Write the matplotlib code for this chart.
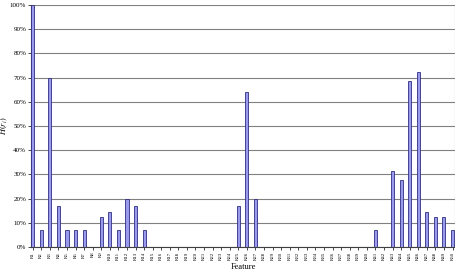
import numpy as np
import matplotlib.pyplot as plt

# feature names R1..R50 and their H(r_i) values in percent
features = ["R%d" % i for i in range(1, 51)]
values = [100, 7, 70, 17, 7, 7, 7, 0, 12.5, 14.5,
          7, 20, 17, 7, 0, 0, 0, 0, 0, 0,
          0, 0, 0, 0, 17, 64, 20, 0, 0, 0,
          0, 0, 0, 0, 0, 0, 0, 0, 0, 0,
          7, 0, 31.5, 27.5, 68.5, 72.5, 14.5, 12.5, 12.5, 7]
yticks = np.arange(0, 101, 10)

plt.rcParams['font.family'] = ['Liberation Serif', 'DejaVu Serif']
plt.rcParams['mathtext.fontset'] = 'stix'

fig = plt.figure(figsize=(4.56, 2.8), dpi=100)
ax = fig.add_axes([0.068, 0.118, 0.93, 0.864])

x = np.arange(1, len(features) + 1)
ax.bar(x, values, width=0.36, color='#9999ee', edgecolor='#2e2e80',
       linewidth=0.6, zorder=3)

ax.set_xlim(0.8, 50.3)
ax.set_ylim(0, 100)
ax.set_yticks(yticks)
ax.set_yticklabels(["%d%%" % v for v in yticks], fontsize=5)
ax.set_xticks(x)
ax.set_xticklabels(features, rotation=90, fontsize=3.5)
ax.tick_params(axis='x', length=2, width=0.5, pad=1.5)
ax.tick_params(axis='y', length=2, width=0.5, pad=1.5)

ax.yaxis.grid(True, color='#808080', linewidth=0.8, zorder=0)
ax.spines['top'].set_visible(False)
ax.spines['right'].set_color('#999999')
ax.spines['right'].set_linewidth(0.8)
ax.spines['left'].set_color('#404040')
ax.spines['bottom'].set_color('#404040')

ax.set_xlabel("Feature", fontsize=6, labelpad=2)
ax.set_ylabel(r"$H(r_i)$", fontsize=6)
ax.yaxis.set_label_coords(-0.05, 0.5)

fig.savefig("out.png", dpi=100)
